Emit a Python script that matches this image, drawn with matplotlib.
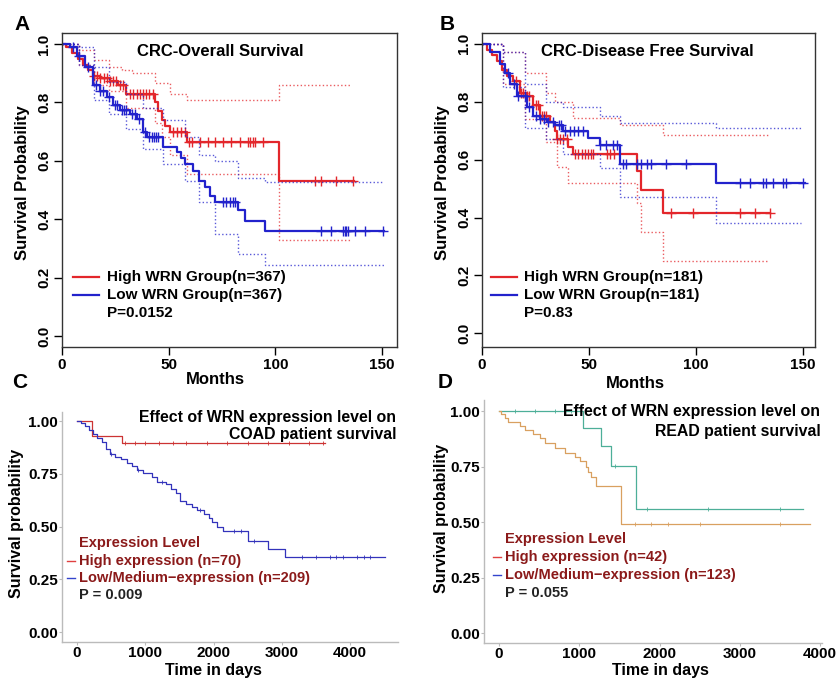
import numpy as np
import matplotlib
matplotlib.use("Agg")
from matplotlib import pyplot as plt

plt.rcParams['font.family'] = ['Liberation Sans', 'DejaVu Sans']
plt.rcParams['font.weight'] = 'bold'

# ---------------- panel A : CRC overall survival (months) ----------------
a_hi_t = [0, 2, 4.5, 7.5, 10, 12.3, 14.7, 17.8, 22.5, 26.4, 30, 43.5, 45, 46.7, 48.5, 50.6, 58.4, 101.8]
a_hi_s = [1.0, 0.99, 0.97, 0.95, 0.93, 0.91, 0.89, 0.885, 0.875, 0.86, 0.83, 0.80, 0.77, 0.74, 0.72, 0.70, 0.664, 0.532]
a_hi_end = 137
a_hi_cens = [15, 16.5, 18, 19.5, 21, 22.5, 24, 25.5, 27, 28.5, 32, 33.5, 35, 36.5, 38, 39.5, 41, 42.5,
             52, 53.7, 56, 57.6, 59.6, 60.7, 64.6, 68.5, 71.6, 75.5, 79.4, 83.3, 87.2, 88, 89.6, 90.4, 94.3,
             118.5, 121.6, 128.6, 136.4]
a_hi_up_t = [0, 8, 15, 22, 28, 33, 43.5, 50.6, 58.4, 101.8]
a_hi_up_s = [1.0, 0.98, 0.945, 0.92, 0.91, 0.90, 0.865, 0.83, 0.81, 0.86]
a_hi_lo_t = [0, 8, 15, 22, 30, 43.5, 46.7, 50.6, 58.4, 101.8]
a_hi_lo_s = [1.0, 0.93, 0.86, 0.84, 0.78, 0.73, 0.68, 0.62, 0.555, 0.33]
a_hi_ci_end = 135

a_lo_t = [0, 3.7, 6.9, 10.8, 14.7, 17.8, 20.9, 24, 27.2, 31.8, 35, 38, 40, 47.4, 53.7, 56, 57.6, 61.5, 64, 67, 69.3, 71.7, 82.6, 85.7, 95]
a_lo_s = [1.0, 0.99, 0.96, 0.92, 0.86, 0.84, 0.82, 0.79, 0.775, 0.76, 0.745, 0.70, 0.68, 0.646, 0.63, 0.61, 0.59, 0.565, 0.53, 0.51, 0.48, 0.458, 0.43, 0.395, 0.36]
a_lo_end = 151
a_lo_cens = [5, 8, 12, 16, 18, 19, 22, 25, 26, 28, 29, 30, 33, 34, 36, 39, 41, 42, 43, 44, 45,
             75.5, 77, 78.5, 80, 81, 121.6, 126.3, 131.7, 132.5, 133.3, 134, 137.2, 141.9, 150.5]
a_lo_up_t = [0, 8, 15, 22, 30, 38, 47.4, 57.6, 64, 71.7, 82.6, 95]
a_lo_up_s = [1.0, 0.99, 0.92, 0.87, 0.83, 0.78, 0.74, 0.68, 0.62, 0.60, 0.54, 0.527]
a_lo_lo_t = [0, 8, 15, 22, 30, 38, 47.4, 57.6, 64, 71.7, 82.6, 95]
a_lo_lo_s = [1.0, 0.93, 0.81, 0.76, 0.71, 0.64, 0.59, 0.53, 0.46, 0.35, 0.28, 0.243]
a_lo_ci_end = 151

# ---------------- panel B : CRC disease free survival (months) ----------------
b_hi_t = [0, 2.2, 4.5, 6.8, 9.2, 11.5, 14.6, 17.7, 20.8, 24, 27, 31.7, 34, 34.9, 40.3, 42.6, 72.2, 74.5, 84.6]
b_hi_s = [1.0, 0.98, 0.96, 0.94, 0.91, 0.89, 0.87, 0.83, 0.82, 0.79, 0.75, 0.73, 0.70, 0.67, 0.645, 0.62, 0.56, 0.495, 0.415]
b_hi_end = 134.4
b_hi_cens = [16, 18, 19, 21, 22, 25, 26, 28, 29, 30, 35, 36.5, 38, 39.5, 43.4, 45, 46.7, 48, 49.5, 51, 52,
             58.5, 60, 61.5, 88.5, 98.6, 120.4, 127.4, 134.4]
b_hi_up_t = [0, 10, 20, 30, 34, 42.6, 64.4, 84.6]
b_hi_up_s = [1.0, 0.97, 0.90, 0.83, 0.80, 0.745, 0.72, 0.685]
b_hi_lo_t = [0, 10, 20, 30, 34.9, 40.3, 72.2, 74.5, 84.6]
b_hi_lo_s = [1.0, 0.86, 0.74, 0.66, 0.575, 0.52, 0.45, 0.35, 0.25]
b_hi_ci_end = 134

b_lo_t = [0, 3.7, 8.4, 10.7, 13, 16.2, 20.8, 24, 27, 30.2, 34, 38, 49.6, 55, 64.4, 109.5]
b_lo_s = [1.0, 0.97, 0.93, 0.90, 0.86, 0.82, 0.78, 0.75, 0.74, 0.73, 0.72, 0.70, 0.675, 0.65, 0.585, 0.52]
b_lo_end = 150.8
b_lo_cens = [12, 15, 17, 20, 22, 25, 27, 29, 31, 33, 36, 37, 39, 41, 43, 45, 47, 55, 58, 61, 63,
             66, 67.5, 72.2, 74.5, 76.9, 79.2, 86.2, 95.5, 120.4, 125, 131.3, 132.9, 136, 140.7, 142.2, 150]
b_lo_up_t = [0, 10, 20, 30, 38, 55, 64.4, 109.5]
b_lo_up_s = [1.0, 0.97, 0.86, 0.80, 0.78, 0.75, 0.725, 0.71]
b_lo_lo_t = [0, 10, 20, 30, 38, 55, 64.4, 109.5]
b_lo_lo_s = [1.0, 0.85, 0.71, 0.67, 0.62, 0.57, 0.47, 0.38]
b_lo_ci_end = 149

# ---------------- panel C : COAD (days) ----------------
c_hi_t = [0, 220, 660]
c_hi_s = [1.0, 0.929, 0.896]
c_hi_end = 3634
c_hi_cens = [300, 700, 850, 1000, 1200, 1400, 1600, 1900, 2200, 2500, 2800, 3100, 3400, 3600]
c_lo_t = [0, 60, 120, 180, 240, 300, 360, 420, 480, 560, 650, 730, 800, 880, 960, 1100, 1170, 1300, 1380,
          1450, 1512, 1600, 1683, 1760, 1854, 1930, 1976, 2049, 2146, 2510, 2805, 3049]
c_lo_s = [1.0, 0.99, 0.975, 0.96, 0.94, 0.92, 0.90, 0.87, 0.845, 0.83, 0.82, 0.80, 0.785, 0.77, 0.755, 0.735,
          0.71, 0.70, 0.68, 0.66, 0.62, 0.605, 0.595, 0.58, 0.56, 0.54, 0.52, 0.50, 0.478, 0.432, 0.395, 0.356]
c_lo_end = 4512
c_lo_cens = [500, 900, 1250, 1800, 2300, 2400, 2600, 3300, 3500, 3700, 3800, 3900, 4100, 4200, 4300]

# ---------------- panel D : READ (days) ----------------
d_g_t = [0, 1048, 1277, 1401, 1705]
d_g_s = [1.0, 0.922, 0.844, 0.752, 0.561]
d_g_end = 3792
d_g_cens = [200, 450, 700, 900, 1450, 1850, 2600, 3500]
d_o_t = [0, 29, 70, 112, 258, 320, 424, 507, 570, 694, 819, 944, 1006, 1089, 1110, 1152, 1214, 1526]
d_o_s = [1.0, 0.985, 0.967, 0.953, 0.932, 0.914, 0.895, 0.877, 0.854, 0.832, 0.809, 0.794, 0.774, 0.749,
         0.726, 0.704, 0.663, 0.493]
d_o_end = 3875
d_o_cens = [1700, 1900, 2100, 2500, 3500]

RED = '#E3262B'
BLUE = '#2222CC'
DARKRED = '#8B1A1A'


def surv_at(t, s, ct):
    idx = np.searchsorted(t, ct, side='right') - 1
    return np.array(s)[idx]


def km(ax, t, s, end, color, lw, ls='-', alpha=1.0):
    ax.step(list(t) + [end], list(s) + [s[-1]], where='post', color=color, lw=lw, ls=ls, alpha=alpha)


fig = plt.figure(figsize=(8.38, 6.81), dpi=100)


def px(x, y):
    return x / 838, 1 - y / 681


def r_panel(rect, title, xlim, ylim, curves, legend, pval):
    ax = fig.add_axes(rect)
    for c in curves:
        t, s, end, cens, up, lo, ci_end, col = c
        km(ax, up[0], up[1], ci_end, col, 1.0, ':', 0.75)
        km(ax, lo[0], lo[1], ci_end, col, 1.0, ':', 0.75)
        km(ax, t, s, end, col, 1.6)
        ax.plot(cens, surv_at(t, s, cens), ls='none', marker='+', ms=7, mew=1.0, color=col)
    ax.set_xlim(*xlim)
    ax.set_ylim(*ylim)
    ax.set_xticks([0, 50, 100, 150])
    ax.set_yticks([0.0, 0.2, 0.4, 0.6, 0.8, 1.0])
    ax.set_yticklabels(['0.0', '0.2', '0.4', '0.6', '0.8', '1.0'], rotation=90, va='center')
    ax.tick_params(direction='out', length=6, width=1, labelsize=11, pad=2)
    for sp in ax.spines.values():
        sp.set_linewidth(1.0)
        sp.set_color('#333333')
    ax.text(title[1], 0.94, title[0], transform=ax.transAxes, ha='center', va='center', fontsize=12)
    lx0, lx1, tx = legend[0]
    for (lab, col), yy in zip(legend[1], [0.223, 0.166]):
        ax.plot([lx0, lx1], [yy, yy], color=col, lw=1.6, transform=ax.transAxes)
        ax.text(tx, yy, lab, transform=ax.transAxes, ha='left', va='center', fontsize=11)
    ax.text(tx, 0.108, pval, transform=ax.transAxes, ha='left', va='center', fontsize=11)
    return ax


axA = r_panel([62 / 838, 1 - 347 / 681, 335 / 838, 314 / 681], ('CRC-Overall Survival', 0.472),
              (0, 157), (-0.038, 1.038),
              [(a_hi_t, a_hi_s, a_hi_end, a_hi_cens, (a_hi_up_t, a_hi_up_s), (a_hi_lo_t, a_hi_lo_s), a_hi_ci_end, RED),
               (a_lo_t, a_lo_s, a_lo_end, a_lo_cens, (a_lo_up_t, a_lo_up_s), (a_lo_lo_t, a_lo_lo_s), a_lo_ci_end, BLUE)],
              ((0.033, 0.110, 0.134), [('High WRN Group(n=367)', RED), ('Low WRN Group(n=367)', BLUE)]),
              'P=0.0152')
axB = r_panel([482 / 838, 1 - 347 / 681, 333 / 838, 314 / 681], ('CRC-Disease Free Survival', 0.495),
              (0, 155.6), (-0.047, 1.037),
              [(b_hi_t, b_hi_s, b_hi_end, b_hi_cens, (b_hi_up_t, b_hi_up_s), (b_hi_lo_t, b_hi_lo_s), b_hi_ci_end, RED),
               (b_lo_t, b_lo_s, b_lo_end, b_lo_cens, (b_lo_up_t, b_lo_up_s), (b_lo_lo_t, b_lo_lo_s), b_lo_ci_end, BLUE)],
              ((0.027, 0.105, 0.126), [('High WRN Group(n=181)', RED), ('Low WRN Group(n=181)', BLUE)]),
              'P=0.83')


def gg_panel(rect, xlim, ylim, curves, title2, ty, labels, pval, lx):
    ax = fig.add_axes(rect)
    for t, s, end, cens, col in curves:
        km(ax, t, s, end, col, 0.9)
        ax.plot(cens, surv_at(t, s, cens), ls='none', marker='|', ms=2.5, mew=0.6, color=col)
    ax.set_xlim(*xlim)
    ax.set_ylim(*ylim)
    ax.set_xticks([0, 1000, 2000, 3000, 4000])
    ax.set_yticks([0.0, 0.25, 0.5, 0.75, 1.0])
    ax.set_yticklabels(['0.00', '0.25', '0.50', '0.75', '1.00'])
    ax.spines['top'].set_visible(False)
    ax.spines['right'].set_visible(False)
    for k in ('left', 'bottom'):
        ax.spines[k].set_color('#BBBBBB')
        ax.spines[k].set_linewidth(1.0)
    ax.tick_params(length=2, color='#BBBBBB', labelsize=11, pad=1)
    ax.text(0.995, ty[0], 'Effect of WRN expression level on', transform=ax.transAxes,
            ha='right', va='center', fontsize=11.4)
    ax.text(0.995, ty[1], title2, transform=ax.transAxes, ha='right', va='center', fontsize=11.4)
    ax.text(lx, 0.43, 'Expression Level', transform=ax.transAxes, ha='left', va='center',
            fontsize=10.5, color=DARKRED)
    for (lab, col), yy in zip(labels, [0.352, 0.278]):
        ax.plot([lx - 0.036, lx - 0.012], [yy, yy], color=col, lw=1.0, transform=ax.transAxes)
        ax.text(lx, yy, lab, transform=ax.transAxes, ha='left', va='center', fontsize=10.5, color=DARKRED)
    ax.text(lx, 0.205, pval, transform=ax.transAxes, ha='left', va='center', fontsize=10.5, color='#222222')
    return ax


axC = gg_panel([62 / 838, 1 - 642 / 681, 336 / 838, 230 / 681], (-220, 4703), (-0.047, 1.043),
               [(c_hi_t, c_hi_s, c_hi_end, c_hi_cens, '#CC3333'),
                (c_lo_t, c_lo_s, c_lo_end, c_lo_cens, '#3333BB')],
               'COAD patient survival', (0.978, 0.9),
               [('High expression (n=70)', '#E04040'), ('Low/Medium\u2212expression (n=209)', '#3344CC')],
               'P = 0.009', 0.05)
axD = gg_panel([484 / 838, 1 - 643 / 681, 338 / 838, 243 / 681], (-187, 4025), (-0.045, 1.05),
               [(d_g_t, d_g_s, d_g_end, d_g_cens, '#4DAF98'),
                (d_o_t, d_o_s, d_o_end, d_o_cens, '#D9A060')],
               'READ patient survival', (0.951, 0.872),
               [('High expression (n=42)', '#E04040'), ('Low/Medium\u2212expression (n=123)', '#3344CC')],
               'P = 0.055', 0.063)

# axis labels and panel letters
fig.text(*px(22, 183), 'Survival Probability', rotation=90, ha='center', va='center', fontsize=12)
fig.text(*px(442, 183), 'Survival Probability', rotation=90, ha='center', va='center', fontsize=12)
fig.text(*px(215, 380), 'Months', ha='center', va='center', fontsize=12)
fig.text(*px(635, 383), 'Months', ha='center', va='center', fontsize=12)
fig.text(*px(16, 523), 'Survival probability', rotation=90, ha='center', va='center', fontsize=11.5)
fig.text(*px(441, 518), 'Survival probability', rotation=90, ha='center', va='center', fontsize=11.5)
fig.text(*px(213, 671), 'Time in days', ha='center', va='center', fontsize=11.5)
fig.text(*px(660, 671), 'Time in days', ha='center', va='center', fontsize=11.5)
fig.text(*px(22, 24), 'A', ha='center', va='center', fontsize=15)
fig.text(*px(447, 24), 'B', ha='center', va='center', fontsize=15)
fig.text(*px(20, 382), 'C', ha='center', va='center', fontsize=15)
fig.text(*px(445, 382), 'D', ha='center', va='center', fontsize=15)

fig.savefig('out.png', dpi=100)
